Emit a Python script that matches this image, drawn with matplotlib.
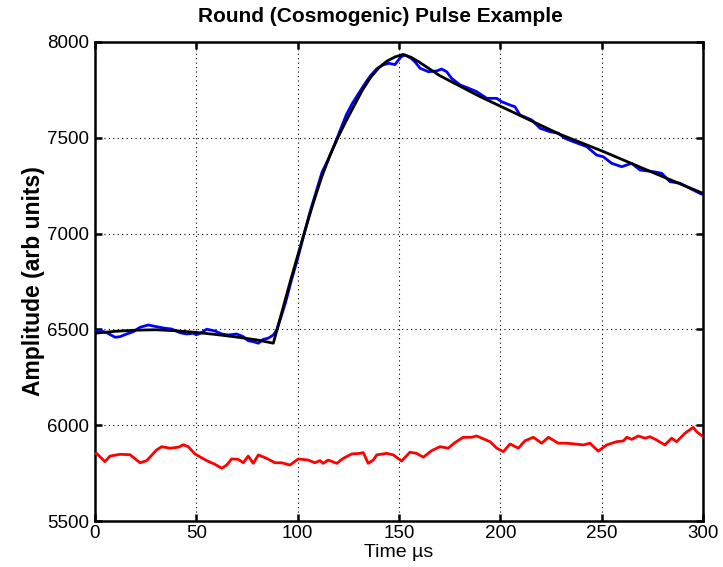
import matplotlib
matplotlib.use("Agg")
import matplotlib.pyplot as plt

plt.rcParams['font.family'] = ['Liberation Sans', 'DejaVu Sans']

# measured pulse (blue)
pulse_t = [0, 2.5, 5.8, 9.9, 12.3, 15.6, 18.9, 22.2, 26.3, 30.4, 34.5, 37.8, 41.9, 45.2, 48.5,
           50, 52, 55.1, 59.2, 62.5, 65.8, 69.9, 73.2, 75.6, 78.1, 80.6, 83, 85.5, 88, 89.7, 91.3,
           94, 97, 100, 103, 106, 109, 112, 115, 118, 121, 124, 127, 130, 133, 136, 139, 142,
           145, 148, 151, 153, 156, 158, 160.4, 164.5, 168.6, 171, 173.5, 176, 180.1, 184,
           188.3, 193.3, 198.2, 200.7, 204.8, 207.2, 209.7, 215.5, 219.6, 224.5, 228.6, 231.9,
           236, 242.6, 247.5, 250.8, 254.9, 259.9, 264.8, 268.9, 275.5, 279.6, 283.7, 288.6,
           293.6, 298.5, 300]
pulse_v = [6488, 6493, 6483, 6459, 6462, 6476, 6488, 6511, 6523, 6514, 6506, 6502, 6483, 6476, 6480,
           6472, 6480, 6501, 6492, 6476, 6471, 6476, 6462, 6441, 6436, 6428, 6448, 6454, 6471, 6497, 6549,
           6640, 6760, 6870, 6990, 7110, 7215, 7320, 7385, 7460, 7540, 7620, 7680, 7730, 7780, 7825, 7860, 7880,
           7889, 7882, 7923, 7932, 7915, 7895, 7863, 7845, 7849, 7859, 7845, 7810, 7776, 7760,
           7741, 7706, 7706, 7688, 7671, 7662, 7619, 7593, 7550, 7532, 7524, 7497,
           7480, 7454, 7410, 7401, 7367, 7349, 7367, 7332, 7323, 7315, 7271, 7263,
           7236, 7210, 7205]

# fitted pulse shape (black)
fit_t = [0, 10, 20, 30, 40, 50, 60, 70, 80, 88, 92, 96, 100, 104, 108, 112, 116, 120, 124, 128,
         132, 136, 140, 144, 148, 152, 156, 160, 165, 170, 180, 190, 200, 215, 229, 250, 275, 300]
fit_v = [6480, 6490, 6496, 6498, 6493, 6484, 6473, 6460, 6445, 6428, 6583, 6737, 6885, 7030, 7170,
         7300, 7410, 7505, 7590, 7670, 7750, 7815, 7865, 7900, 7922, 7935, 7920, 7895, 7860, 7825,
         7770, 7715, 7665, 7590, 7520, 7432, 7320, 7210]

# baseline / second channel (red)
base_t = [0, 0.8, 4.9, 7.4, 12.3, 17.3, 22.2, 25.5, 30.4, 32.9, 37.0, 41.1, 43.6, 46.0, 49.3, 55.1,
          59.2, 62.5, 65.0, 67.4, 70.7, 73.2, 75.6, 78.1, 80.6, 84.7, 88.8, 92.1, 96.2, 100.3, 105.2,
          108.5, 111.0, 112.6, 115.1, 119.3, 122.5, 126.7, 130.8, 132.4, 134.8, 137.3, 139.0, 143.9,
          147.2, 151.3, 155.4, 158.7, 162.0, 166.1, 170.2, 174.3, 177.6, 181.7, 185.9, 188.3, 194.9,
          198.2, 201.5, 204.8, 208.9, 212.2, 216.3, 220.4, 223.7, 228.6, 232.7, 236.8, 240.9, 244.2,
          248.3, 252.5, 257.4, 260.7, 262.4, 264.8, 268.1, 271.4, 273.8, 277.1, 281.2, 284.5, 287.0,
          291.1, 295.2, 296.9, 300]
base_v = [5850, 5853, 5810, 5839, 5848, 5846, 5804, 5815, 5871, 5888, 5880, 5885, 5898, 5888, 5850, 5815,
          5796, 5775, 5792, 5824, 5822, 5804, 5839, 5801, 5845, 5827, 5804, 5804, 5792, 5824, 5818,
          5804, 5815, 5801, 5818, 5801, 5827, 5850, 5853, 5857, 5801, 5818, 5845, 5853,
          5845, 5813, 5859, 5853, 5833, 5867, 5888, 5880, 5909, 5937, 5937, 5944, 5914,
          5880, 5862, 5902, 5880, 5919, 5937, 5906, 5937, 5906, 5906, 5902, 5897, 5906,
          5865, 5897, 5914, 5918, 5937, 5926, 5944, 5932, 5940, 5923, 5897, 5932, 5914,
          5958, 5989, 5966, 5940]

x_ticks = [0, 50, 100, 150, 200, 250, 300]
y_ticks = [5500, 6000, 6500, 7000, 7500, 8000]

fig = plt.figure(figsize=(7.23, 5.67), dpi=100)
ax = fig.add_axes([95 / 723, 1 - 521 / 567, 608 / 723, 479 / 567])

ax.plot(base_t, base_v, color=(1, 0, 0), lw=2.0, zorder=3)
ax.plot(pulse_t, pulse_v, color=(0, 0, 1), lw=2.0, zorder=3)
ax.plot(fit_t, fit_v, color='black', lw=2.0, zorder=4)

ax.set_xlim(0, 300)
ax.set_ylim(5500, 8000)
ax.set_xticks(x_ticks)
ax.set_yticks(y_ticks)
ax.grid(True, color='black', linestyle=(0, (1, 3)), linewidth=0.8)
ax.tick_params(direction='in', length=5, width=1.8, top=True, right=True,
               labelsize=13.5, colors='black')
ax.tick_params(axis='x', pad=3)
ax.tick_params(axis='y', pad=4)
for s in ax.spines.values():
    s.set_linewidth(1.8)
    s.set_color('black')

fig.text(380 / 723, 1 - 17 / 567, 'Round (Cosmogenic) Pulse Example', fontsize=15,
         fontweight='bold', ha='center', va='center')
ax.set_xlabel('Time \u00b5s', fontsize=14, labelpad=1)
ax.set_ylabel('Amplitude (arb units)', fontsize=16.5, fontweight='bold', labelpad=2)

fig.savefig('out.png', dpi=100)
